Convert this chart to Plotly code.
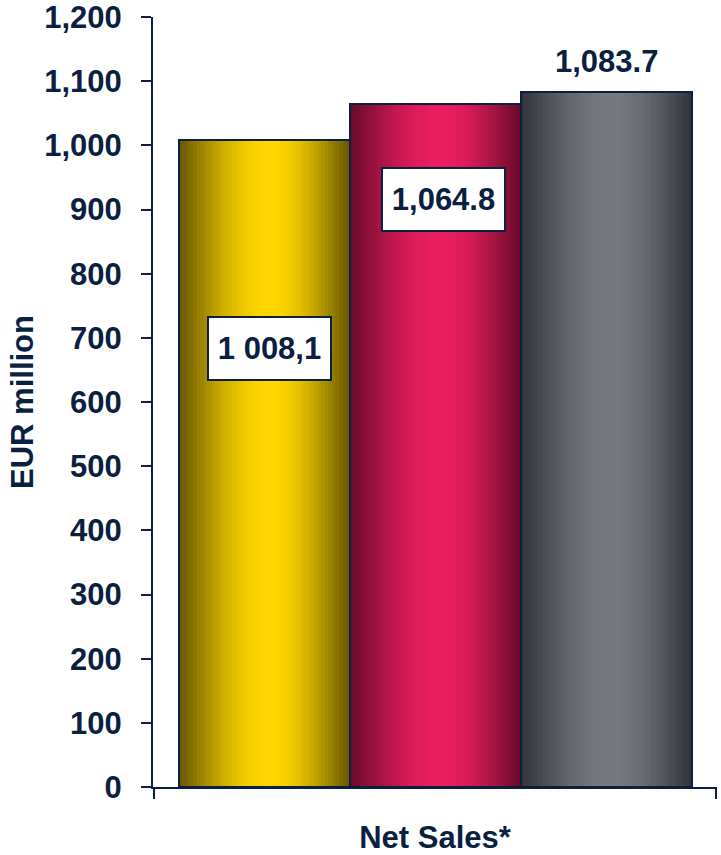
import math
import plotly.graph_objects as go

# ---- data ----
categories = ["Period 1", "Period 2", "Period 3"]
values = [1008.1, 1064.8, 1083.7]
value_labels = ["1 008,1", "1,064.8", "1,083.7"]
y_title = "EUR million"
x_title = "Net Sales*"
y_tickvals = list(range(0, 1201, 100))

# ---- styles ----
NAVY = "#0B1F42"
FONT = "Liberation Sans, Arial, sans-serif"
dark_cols = [(104, 88, 0), (105, 10, 42), (50, 52, 60)]
bright_cols = [(255, 214, 0), (233, 30, 96), (118, 120, 128)]
label_pos = [(0.03, 683, True), (1.05, 915, True), (2.0, 1131, False)]
N = 48
PEAK = 0.53


def shade(t):
    u = t / PEAK if t < PEAK else (1 - t) / (1 - PEAK)
    return math.sin(math.pi / 2 * max(0.0, min(1.0, u))) ** 1.1


fig = go.Figure()
xs = list(range(len(categories)))
for i, v in enumerate(values):
    sx, sy, sw, sc = [], [], [], []
    d, b = dark_cols[i], bright_cols[i]
    for k in range(N):
        t = (k + 0.5) / N
        f = shade(t)
        c = tuple(round(d[j] + (b[j] - d[j]) * f) for j in range(3))
        sx.append(xs[i] - 0.5 + t)
        sy.append(v)
        sw.append(1.15 / N)
        sc.append("rgb(%d,%d,%d)" % c)
    fig.add_trace(go.Bar(x=sx, y=sy, width=sw, marker=dict(color=sc, line=dict(width=0)),
                         hoverinfo="skip", showlegend=False))

fig.add_trace(go.Bar(x=xs, y=values, width=[1] * len(xs),
                     marker=dict(color="rgba(0,0,0,0)", line=dict(color=NAVY, width=2)),
                     hoverinfo="skip", showlegend=False))

for (lx, ly, boxed), txt in zip(label_pos, value_labels):
    kw = dict(bgcolor="white", bordercolor=NAVY, borderwidth=2, borderpad=0,
              width=121, height=61) if boxed else {}
    fig.add_annotation(x=lx, y=ly, text=txt, showarrow=False,
                       font=dict(family=FONT, size=31, color=NAVY, weight="bold"),
                       xanchor="center", yanchor="middle", **kw)

xr = [-0.652, 2.648]
fig.update_layout(
    width=721, height=855,
    margin=dict(l=153, r=4, t=17, b=68),
    paper_bgcolor="white", plot_bgcolor="white",
    barmode="overlay", bargap=0,
    font=dict(family=FONT, color=NAVY),
    xaxis=dict(range=xr, tickvals=[xr[0] + 0.003, xr[1] - 0.003], ticktext=["", ""],
               ticks="outside", ticklen=10, tickwidth=2, tickcolor=NAVY, automargin=False,
               showline=True, linecolor=NAVY, linewidth=2, showgrid=False, zeroline=False,
               title=dict(text=x_title, standoff=26,
                          font=dict(family=FONT, size=31, color=NAVY, weight="bold"))),
    yaxis=dict(range=[0, 1200], tickvals=y_tickvals, tickformat=",", automargin=False,
               ticks="outside", ticklen=10, tickwidth=2, tickcolor=NAVY,
               ticklabelstandoff=13, ticklabeloverflow="allow",
               tickfont=dict(family=FONT, size=31, color=NAVY, weight="bold"),
               showline=True, linecolor=NAVY, linewidth=2, showgrid=False, zeroline=False,
               title=dict(text=y_title, standoff=1,
                          font=dict(family=FONT, size=31, color=NAVY, weight="bold"))),
)

fig.write_html("out.html")
